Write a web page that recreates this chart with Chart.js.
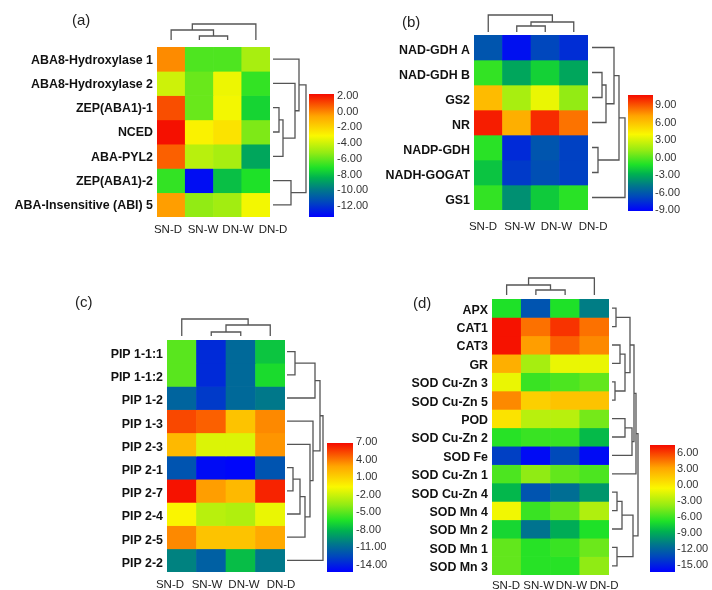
<!DOCTYPE html>
<html>
<head>
<meta charset="utf-8">
<script src="https://cdn.jsdelivr.net/npm/chart.js@4.4.1/dist/chart.umd.min.js"></script>
<style>
  body { margin: 0; background: #fff; }
  #wrap { position: relative; width: 712px; height: 590px; font-family: "Liberation Sans", Arial, sans-serif; }
  canvas { position: absolute; left: 0; top: 0; }
  .tag { position: absolute; font-size: 15px; color: #222; line-height: 18px; }
</style>
</head>
<body>
<div id="wrap">
  <canvas id="cA" width="712" height="590"></canvas>
  <canvas id="cB" width="712" height="590"></canvas>
  <canvas id="cC" width="712" height="590"></canvas>
  <canvas id="cD" width="712" height="590"></canvas>
  <div class="tag" style="left:72px;top:11px">(a)</div>
  <div class="tag" style="left:402px;top:13px">(b)</div>
  <div class="tag" style="left:75px;top:293px">(c)</div>
  <div class="tag" style="left:413px;top:294px">(d)</div>
</div>
<script>
// columnas comunes
const COLS = ["SN-D", "SN-W", "DN-W", "DN-D"];

// ---- (a) ABA ----
const rowsA = ["ABA8-Hydroxylase 1", "ABA8-Hydroxylase 2", "ZEP(ABA1)-1", "NCED", "ABA-PYL2", "ZEP(ABA1)-2", "ABA-Insensitive (ABI) 5"];
const valsA = [
  [-0.1, -5.7, -5.7, -4.3],
  [-3.6, -5.3, -3.0, -6.1],
  [0.9, -5.3, -2.9, -6.7],
  [1.9, -2.6, -2.2, -5.0],
  [0.6, -4.0, -4.3, -7.8],
  [-6.1, -11.7, -7.2, -6.4],
  [-0.4, -4.7, -4.4, -2.9]
];
const legendA = [2, 0, -2, -4, -6, -8, -10, -12];
// linkage: [a, b, altura]; indices >= n son clusters previos
const colTreeA = [[1, 2, 4], [0, 4, 10], [5, 3, 16]];
const rowTreeA = [[2, 3, 6], [7, 4, 10], [1, 8, 22], [0, 9, 26], [5, 6, 18], [10, 11, 33]];

// ---- (b) N metabolism ----
const rowsB = ["NAD-GDH A", "NAD-GDH B", "GS2", "NR", "NADP-GDH", "NADH-GOGAT", "GS1"];
const valsB = [
  [-6.3, -8.5, -6.8, -7.6],
  [-1.4, -3.6, -2.3, -3.6],
  [5.0, 0.9, 2.5, 0.4],
  [8.6, 5.4, 8.3, 6.8],
  [-1.6, -7.7, -6.3, -7.0],
  [-2.7, -7.2, -6.5, -7.0],
  [-1.4, -4.3, -2.5, -1.6]
];
const legendB = [9, 6, 3, 0, -3, -6, -9];
const colTreeB = [[1, 2, 6], [4, 3, 10], [0, 5, 17]];
const rowTreeB = [[1, 2, 10], [7, 3, 14], [0, 8, 22], [4, 5, 6], [9, 10, 27], [11, 6, 33]];

// ---- (c) aquaporinas ----
const rowsC = ["PIP 1-1:1", "PIP 1-1:2", "PIP 1-2", "PIP 1-3", "PIP 2-3", "PIP 2-1", "PIP 2-7", "PIP 2-4", "PIP 2-5", "PIP 2-2"];
const valsC = [
  [-4.3, -12.5, -10.0, -6.6],
  [-4.3, -12.5, -10.0, -5.8],
  [-10.2, -11.9, -10.0, -9.4],
  [5.5, 4.9, 2.0, 3.9],
  [2.4, -1.0, -1.0, 3.6],
  [-10.9, -13.6, -13.8, -10.9],
  [6.8, 3.4, 2.4, 6.4],
  [0.0, -2.0, -2.2, -0.6],
  [3.9, 2.0, 2.0, 3.0],
  [-9.0, -10.4, -6.9, -9.4]
];
const legendC = [7, 4, 1, -2, -5, -8, -11, -14];
const colTreeC = [[1, 2, 4], [4, 3, 11], [0, 5, 17]];
const rowTreeC = [[0, 1, 8], [10, 2, 28], [5, 6, 6], [12, 7, 13], [13, 8, 18], [14, 4, 23], [15, 3, 26], [11, 16, 33], [17, 9, 36]];

// ---- (d) antioxidantes ----
const rowsD = ["APX", "CAT1", "CAT3", "GR", "SOD Cu-Zn 3", "SOD Cu-Zn 5", "POD", "SOD Cu-Zn 2", "SOD Fe", "SOD Cu-Zn 1", "SOD Cu-Zn 4", "SOD Mn 4", "SOD Mn 2", "SOD Mn 1", "SOD Mn 3"];
const valsD = [
  [-6.6, -11.9, -6.6, -10.2],
  [5.8, 3.5, 5.0, 3.5],
  [5.8, 2.4, 3.9, 2.9],
  [1.8, -3.5, -1.6, -1.6],
  [-1.6, -6.0, -5.6, -5.1],
  [2.9, 0.5, 1.0, 1.0],
  [-0.3, -3.0, -3.0, -4.7],
  [-6.4, -6.0, -6.0, -8.0],
  [-12.7, -14.6, -12.3, -14.6],
  [-5.6, -4.1, -5.1, -5.6],
  [-8.1, -11.9, -10.8, -9.3],
  [-1.4, -6.0, -5.1, -3.2],
  [-7.0, -10.6, -8.5, -6.6],
  [-5.1, -6.4, -6.0, -4.9],
  [-5.1, -6.4, -6.4, -4.1]
];
const legendD = [6, 3, 0, -3, -6, -9, -12, -15];
const colTreeD = [[1, 2, 5], [0, 4, 10], [5, 3, 17]];
const rowTreeD = [[0, 1, 4], [2, 3, 8], [4, 5, 3], [16, 17, 13], [15, 18, 18], [6, 7, 13], [20, 8, 20], [19, 21, 22], [22, 9, 24],
                  [10, 11, 5], [24, 12, 10], [13, 14, 5], [25, 26, 21], [23, 27, 26]];

// escala de color azul -> verde -> amarillo -> rojo
const STOPS = [
  [0.00, [0, 0, 255]], [0.12, [0, 70, 190]], [0.22, [0, 120, 138]], [0.32, [0, 178, 80]],
  [0.40, [30, 225, 40]], [0.52, [145, 235, 20]], [0.66, [250, 248, 0]], [0.82, [255, 165, 0]], [1.00, [245, 10, 0]]
];
function rampColor(f) {
  f = Math.max(0, Math.min(1, f));
  for (let i = 1; i < STOPS.length; i++) {
    if (f <= STOPS[i][0]) {
      const [f0, c0] = STOPS[i - 1], [f1, c1] = STOPS[i];
      const t = (f - f0) / (f1 - f0);
      const c = c0.map((v, k) => Math.round(v + (c1[k] - v) * t));
      return `rgb(${c[0]},${c[1]},${c[2]})`;
    }
  }
  return "rgb(245,10,0)";
}

function drawTree(ctx, merges, leafPos, base, dir) {
  const pos = leafPos.slice(), hgt = leafPos.map(() => 0);
  const pt = (p, h) => dir === "up" ? [p, base - h] : [base + h, p];
  merges.forEach(([a, b, h]) => {
    ctx.beginPath();
    ctx.moveTo(...pt(pos[a], hgt[a]));
    ctx.lineTo(...pt(pos[a], h));
    ctx.lineTo(...pt(pos[b], h));
    ctx.lineTo(...pt(pos[b], hgt[b]));
    ctx.stroke();
    pos.push((pos[a] + pos[b]) / 2);
    hgt.push(h);
  });
}

// dendrogramas + barra de color
function makeExtras(P) {
  return {
    id: "extras",
    afterDraw(chart) {
      const ctx = chart.ctx, x = chart.scales.x, y = chart.scales.y;
      ctx.save();
      ctx.strokeStyle = "#555";
      ctx.lineWidth = 1.3;
      drawTree(ctx, P.colTree, COLS.map((_, i) => x.getPixelForValue(i)), P.colBase, "up");
      drawTree(ctx, P.rowTree, P.rows.map((_, i) => y.getPixelForValue(i)), P.rowBase, "right");
      const L = P.bar;
      const g = ctx.createLinearGradient(0, L.y, 0, L.y + L.h);
      STOPS.forEach(([f, c]) => g.addColorStop(1 - f, `rgb(${c[0]},${c[1]},${c[2]})`));
      ctx.fillStyle = g;
      ctx.fillRect(L.x, L.y, L.w, L.h);
      ctx.fillStyle = "#333";
      ctx.font = '11px "Liberation Sans", Arial, sans-serif';
      ctx.textBaseline = "middle";
      ctx.textAlign = "left";
      P.ticks.forEach((t, i) => {
        const ty = L.ly0 + (L.ly1 - L.ly0) * i / (P.ticks.length - 1);
        ctx.fillText(t.toFixed(2), L.lx, ty);
      });
      ctx.restore();
    }
  };
}

function makeHeat(id, P) {
  const n = P.rows.length;
  const span = P.heat.r - P.heat.l;
  const x2min = -(P.lab.x0 - P.heat.l) / P.lab.step;
  new Chart(document.getElementById(id), {
    type: "bar",
    data: {
      labels: COLS,
      datasets: P.vals.map((row, r) => ({
        data: COLS.map(() => [r - 0.5, r + 0.5]),
        backgroundColor: row.map(v => rampColor((v - P.range[0]) / (P.range[1] - P.range[0]))),
        borderWidth: 0,
        barPercentage: 1,
        categoryPercentage: 1,
        grouped: false
      }))
    },
    options: {
      responsive: false,
      animation: false,
      events: [],
      layout: { padding: { left: 0, top: P.heat.t, right: 712 - P.heat.r, bottom: 0 } },
      plugins: { legend: { display: false }, tooltip: { enabled: false } },
      scales: {
        x: { display: false, offset: true },
        x2: {
          type: "linear", position: "bottom", offset: false,
          min: x2min, max: x2min + span / P.lab.step,
          grid: { display: false, drawTicks: false, offset: false },
          border: { display: false },
          afterBuildTicks: s => { s.ticks = COLS.map((_, i) => ({ value: i })); },
          afterFit: s => { s.height = 590 - P.heat.b; },
          ticks: {
            autoSkip: false, maxRotation: 0, padding: P.lab.pad, color: "#222",
            font: { family: '"Liberation Sans", Arial, sans-serif', size: 11.5, weight: P.lab.weight },
            callback: v => COLS[v]
          }
        },
        y: {
          type: "linear", reverse: true, min: -0.5, max: n - 0.5, offset: false,
          grid: { display: false, drawTicks: false },
          border: { display: false },
          afterBuildTicks: s => { s.ticks = P.rows.map((_, i) => ({ value: i })); },
          afterFit: s => { s.width = P.heat.l; },
          ticks: {
            autoSkip: false, padding: 4, labelOffset: P.rowOff, color: "#111",
            font: { family: '"Liberation Sans", Arial, sans-serif', size: 12.4, weight: "bold" },
            callback: v => P.rows[v]
          }
        }
      }
    },
    plugins: [makeExtras(P)]
  });
}

makeHeat("cA", {
  rows: rowsA, vals: valsA, range: [-12, 2], ticks: legendA, colTree: colTreeA, rowTree: rowTreeA,
  heat: { l: 157, t: 47, r: 270, b: 217 }, rowOff: 1,
  lab: { x0: 168, step: 35, pad: 6, weight: "normal" },
  bar: { x: 309, y: 94, w: 25, h: 123, lx: 337, ly0: 96, ly1: 206 },
  colBase: 40, rowBase: 273
});
makeHeat("cB", {
  rows: rowsB, vals: valsB, range: [-9, 9], ticks: legendB, colTree: colTreeB, rowTree: rowTreeB,
  heat: { l: 474, t: 35, r: 588, b: 210 }, rowOff: 3,
  lab: { x0: 483, step: 36.7, pad: 10, weight: "normal" },
  bar: { x: 628, y: 95, w: 25, h: 116, lx: 655, ly0: 105, ly1: 210 },
  colBase: 32, rowBase: 592
});
makeHeat("cC", {
  rows: rowsC, vals: valsC, range: [-14, 7], ticks: legendC, colTree: colTreeC, rowTree: rowTreeC,
  heat: { l: 167, t: 340, r: 285, b: 572 }, rowOff: 3,
  lab: { x0: 170, step: 37, pad: 6, weight: "normal" },
  bar: { x: 327, y: 443, w: 26, h: 129, lx: 356, ly0: 442, ly1: 565 },
  colBase: 336, rowBase: 287
});
makeHeat("cD", {
  rows: rowsD, vals: valsD, range: [-15, 6], ticks: legendD, colTree: colTreeD, rowTree: rowTreeD,
  heat: { l: 492, t: 299, r: 609, b: 575 }, rowOff: 2,
  lab: { x0: 506, step: 32.7, pad: 4, weight: "normal" },
  bar: { x: 650, y: 445, w: 25, h: 127, lx: 677, ly0: 453, ly1: 565 },
  colBase: 295, rowBase: 612
});
</script>
</body>
</html>
